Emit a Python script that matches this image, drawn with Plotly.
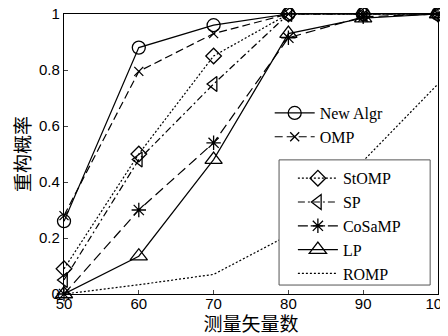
import plotly.graph_objects as go

x_vals = [50, 60, 70, 80, 90, 100]
new_algr = [0.26, 0.88, 0.96, 1.0, 1.0, 1.0]
omp = [0.28, 0.795, 0.93, 1.0, 1.0, 1.0]
stomp = [0.09, 0.50, 0.85, 1.0, 1.0, 1.0]
sp = [0.05, 0.48, 0.75, 1.0, 1.0, 1.0]
cosamp = [0.0, 0.30, 0.54, 0.915, 0.99, 1.0]
lp = [0.0, 0.135, 0.48, 0.93, 0.985, 1.0]
romp = [0.0, 0.033, 0.07, 0.21, 0.475, 0.75]

x_ticks = [50, 60, 70, 80, 90, 100]
y_ticks = [0, 0.2, 0.4, 0.6, 0.8, 1]
y_tick_text = ["0", "0.2", "0.4", "0.6", "0.8", "1"]

series = [
    ("New Algr", new_algr, "solid", "circle-open", 13, "legend"),
    ("OMP", omp, "8px,4px", "x-thin-open", 9, "legend"),
    ("StOMP", stomp, "2px,2px", "diamond-open", 12, "legend2"),
    ("SP", sp, "7px,3px,2px,3px", "triangle-left-open", 13, "legend2"),
    ("CoSaMP", cosamp, "10px,5px", "asterisk-open", 12, "legend2"),
    ("LP", lp, "solid", "triangle-up-open", 15, "legend2"),
    ("ROMP", romp, "2px,2px", None, 0, "legend2"),
]

fig = go.Figure()
for name, ys, dash, sym, size, leg in series:
    kw = dict(x=x_vals, y=ys, name=name, legend=leg, cliponaxis=False,
              line=dict(color="black", width=1.2, dash=dash))
    if sym:
        kw["mode"] = "lines+markers"
        kw["marker"] = dict(symbol=sym, size=size, color="black",
                            line=dict(color="black", width=1.3))
    else:
        kw["mode"] = "lines"
    fig.add_trace(go.Scatter(**kw))

# legend frame for the second legend block
fig.add_shape(type="rect", xref="paper", yref="paper",
              x0=0.575, x1=0.979, y0=0.032, y1=0.479,
              line=dict(color="#555555", width=1), fillcolor="white",
              layer="above")

legend_font = dict(family="Liberation Serif, Times New Roman", size=16)
# page body has an 8px default margin, so the figure is 8px smaller
fig.update_layout(
    width=440, height=328,
    margin=dict(l=56, r=10, t=6, b=42, autoexpand=False),
    paper_bgcolor="white", plot_bgcolor="white",
    font=dict(family="Liberation Sans, Arial", color="black", size=15),
    legend=dict(x=0.55, y=0.707, xanchor="left", yanchor="top",
                bgcolor="rgba(255,255,255,0)", borderwidth=0,
                font=legend_font, tracegroupgap=0, itemwidth=40),
    legend2=dict(x=0.612, y=0.474, xanchor="left", yanchor="top",
                 bgcolor="rgba(255,255,255,0)", borderwidth=0,
                 font=legend_font, tracegroupgap=0, itemwidth=40),
    xaxis=dict(range=[50, 100], tickvals=x_ticks, ticks="inside", ticklen=4,
               showline=True, linecolor="black", linewidth=1.3, mirror=True,
               showgrid=False, zeroline=False, automargin=False,
               ticklabeloverflow="allow", ticklabelstandoff=-4,
               title=dict(text="测量矢量数", standoff=4,
                          font=dict(family="Noto Sans CJK SC", size=19))),
    yaxis=dict(range=[0, 1], tickvals=y_ticks, ticktext=y_tick_text,
               ticks="inside", ticklen=4,
               showline=True, linecolor="black", linewidth=1.3, mirror=True,
               showgrid=False, zeroline=False, automargin=False,
               ticklabeloverflow="allow",
               title=dict(text="重构概率", standoff=5,
                          font=dict(family="Noto Sans CJK SC", size=19))),
    showlegend=True,
)

fig.write_html("out.html")
